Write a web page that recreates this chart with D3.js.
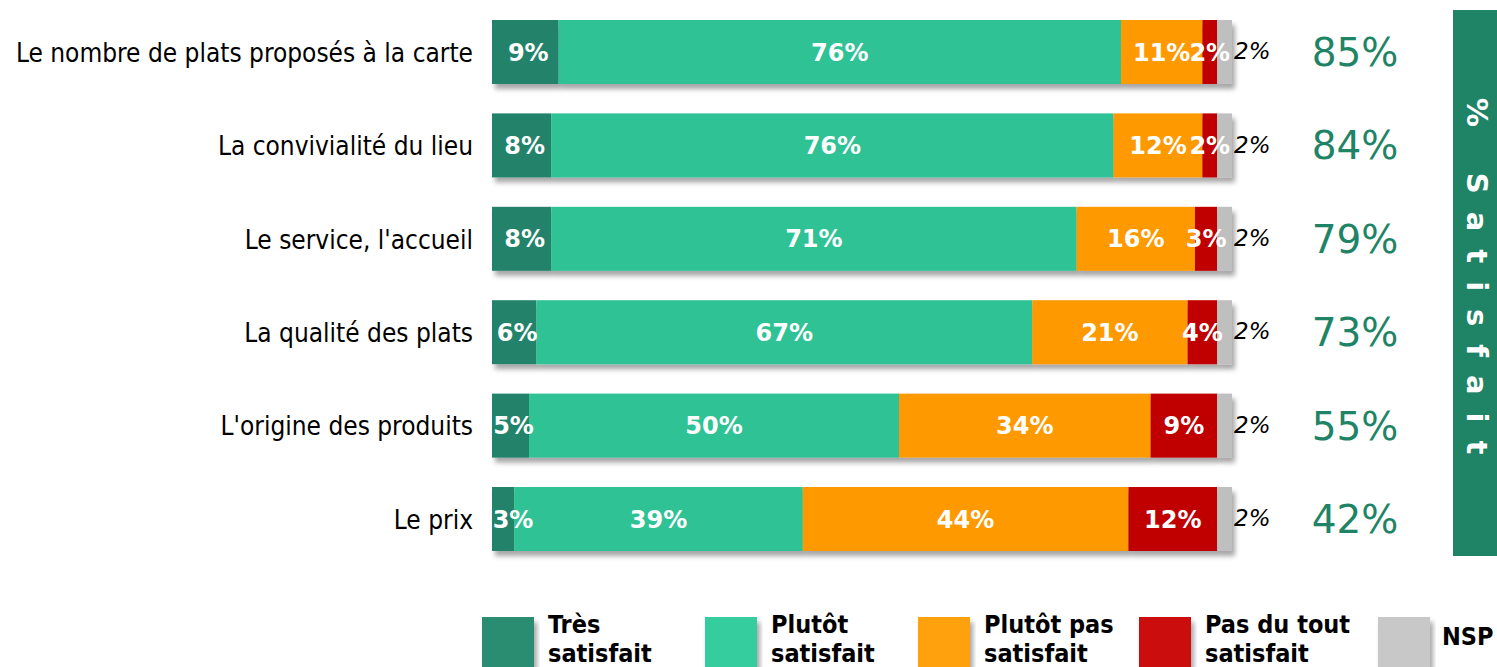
<!DOCTYPE html>
<html>
<head>
<meta charset="utf-8">
<script src="https://cdn.jsdelivr.net/npm/d3@7"></script>
<style>
body{margin:0;background:#fff;overflow:hidden;}
</style>
</head>
<body>
<script>
var categories=["Le nombre de plats proposés à la carte","La convivialité du lieu","Le service, l'accueil","La qualité des plats","L'origine des produits","Le prix"];
var tresSatisfait=[9,8,8,6,5,3];
var plutotSatisfait=[76,76,71,67,50,39];
var plutotPas=[11,12,16,21,34,44];
var pasDuTout=[2,2,3,4,9,12];
var nsp=[2,2,2,2,2,2];
var totalSatisfait=[85,84,79,73,55,42];
var seriesNames=["Très satisfait","Plutôt satisfait","Plutôt pas satisfait","Pas du tout satisfait","NSP"];
var colors=["#21836a","#2ec295","#ff9900","#c00000","#bfbfbf"];
var legendColors=["#2a8c70","#36cc9e","#ffa010","#cc0a0a","#c8c8c8"];

var W=1497,H=667;
var svg=d3.select("body").append("svg").attr("width",W).attr("height",H);

var defs=svg.append("defs");
defs.append("filter").attr("id","shadow").attr("x","-5%").attr("y","-20%").attr("width","115%").attr("height","160%")
	.append("feDropShadow").attr("dx",3).attr("dy",5).attr("stdDeviation",2.5)
	.attr("flood-color","#000").attr("flood-opacity",0.35);

var x=d3.scaleLinear().domain([0,100]).range([492,1232]);
var y=d3.scaleBand().domain(categories).range([20,551]).paddingInner(0.315).paddingOuter(0);

var series=[tresSatisfait,plutotSatisfait,plutotPas,pasDuTout,nsp];
var rows=categories.map(function(c,i){
	var start=0, segs=[];
	for(var k=0;k<series.length;k++){
		segs.push({k:k,v:series[k][i],x0:start,x1:start+series[k][i]});
		start+=series[k][i];
	}
	return {cat:c,i:i,segs:segs};
});

var row=svg.selectAll("g.row").data(rows).enter().append("g")
	.attr("class","row")
	.attr("transform",function(d){return "translate(0,"+y(d.cat)+")";});

// bars with shadow
row.append("g").attr("filter","url(#shadow)")
	.selectAll("rect").data(function(d){return d.segs;}).enter().append("rect")
	.attr("x",function(d){return x(d.x0);})
	.attr("width",function(d){return x(d.x1)-x(d.x0);})
	.attr("y",0)
	.attr("height",y.bandwidth())
	.attr("fill",function(d){return colors[d.k];});

// white labels inside bars
row.selectAll("text.val").data(function(d){return d.segs.filter(function(s){return s.k<4;});}).enter().append("text")
	.attr("class","val")
	.attr("x",function(d){
		var c=(x(d.x0)+x(d.x1))/2;
		if(d.k==0) c=Math.max(c+3,x(0)+21);
		return c;
	})
	.attr("y",y.bandwidth()/2)
	.attr("dy","0.36em")
	.attr("text-anchor","middle")
	.attr("fill","#fff")
	.style("font-family","DejaVu Sans, Verdana, sans-serif")
	.style("font-weight","bold")
	.style("font-size","24px")
	.text(function(d){return d.v+"%";});

// NSP labels outside
row.append("text")
	.attr("x",x(100)+2)
	.attr("y",y.bandwidth()/2-1)
	.attr("dy","0.36em")
	.style("font-family","DejaVu Sans, Verdana, sans-serif")
	.style("font-style","italic")
	.style("font-size","23px")
	.attr("fill","#000")
	.text(function(d){return nsp[d.i]+"%";});

// category labels
row.append("text")
	.attr("x",473)
	.attr("y",y.bandwidth()/2)
	.attr("dy","0.38em")
	.attr("text-anchor","end")
	.style("font-family","DejaVu Sans Condensed, DejaVu Sans, sans-serif")
	.style("font-size","26px")
	.attr("fill","#000")
	.text(function(d){return d.cat;});

// total satisfied
row.append("text")
	.attr("x",1355)
	.attr("y",y.bandwidth()/2)
	.attr("dy","0.36em")
	.attr("text-anchor","middle")
	.style("font-family","DejaVu Sans, Verdana, sans-serif")
	.style("font-size","39px")
	.attr("fill","#1f8466")
	.text(function(d){return totalSatisfait[d.i]+"%";});

// right banner
svg.append("rect").attr("x",1453).attr("y",10).attr("width",50).attr("height",546).attr("fill","#1f8466");
svg.append("text")
	.attr("transform","translate(1467,285) rotate(90)")
	.attr("text-anchor","middle")
	.style("font-family","DejaVu Sans, Verdana, sans-serif")
	.style("font-weight","bold")
	.style("font-size","29px")
	.style("letter-spacing","18px")
	.attr("fill","#fff")
	.text("% Satisfait");

// legend
var legendX=[482,705,918,1139,1378];
var legendLines=[["Très","satisfait"],["Plutôt","satisfait"],["Plutôt pas","satisfait"],["Pas du tout","satisfait"],["NSP"]];
var lg=svg.selectAll("g.leg").data(seriesNames).enter().append("g")
	.attr("class","leg")
	.attr("transform",function(d,i){return "translate("+legendX[i]+",617)";});
lg.append("rect").attr("width",52).attr("height",50).attr("filter","url(#shadow)")
	.attr("fill",function(d,i){return legendColors[i];});
lg.append("text")
	.attr("x",function(d,i){return i==4?64:66;})
	.attr("y",function(d,i){return i==4?28:16;})
	.style("font-family","DejaVu Sans Condensed, DejaVu Sans, sans-serif")
	.style("font-weight","bold")
	.style("font-size","25px")
	.attr("fill","#000")
	.selectAll("tspan").data(function(d,i){return legendLines[i];}).enter().append("tspan")
	.attr("x",function(){return d3.select(this.parentNode).attr("x");})
	.attr("dy",function(d,j){return j==0?0:29;})
	.text(function(d){return d;});
</script>
</body>
</html>
